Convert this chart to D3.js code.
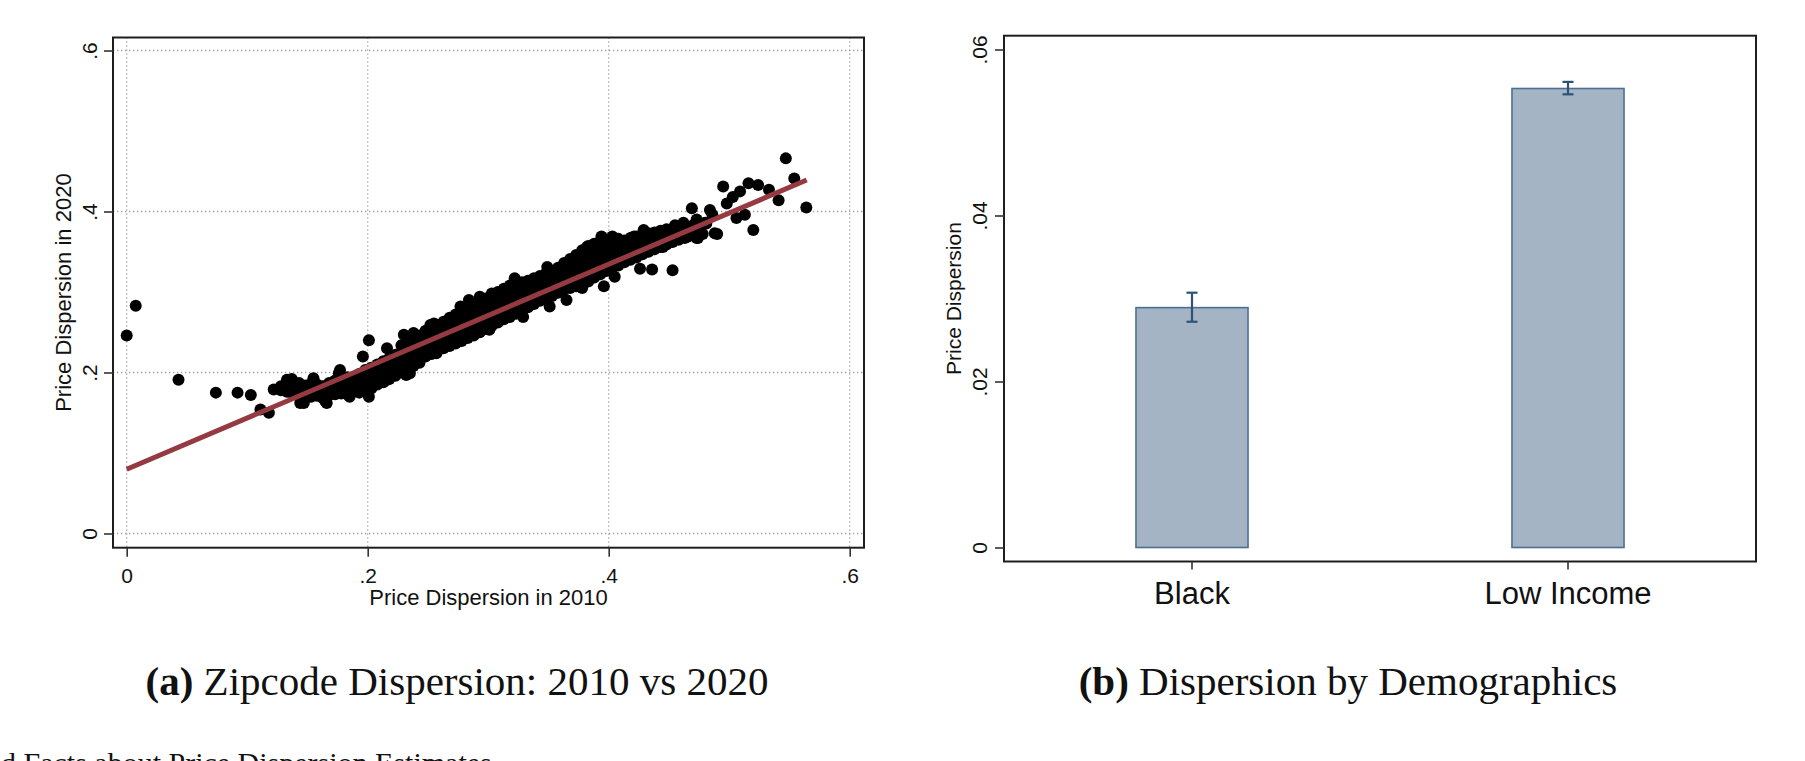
<!DOCTYPE html>
<html>
<head>
<meta charset="utf-8">
<script src="https://cdn.jsdelivr.net/npm/d3@7"></script>
<style>
  body { margin: 0; background: #fff; }
  svg { display: block; }
  .sans { font-family: "Liberation Sans", Arial, sans-serif; fill: #111; }
  .serif { font-family: "Liberation Serif", "Times New Roman", serif; fill: #111; }
</style>
</head>
<body>
<script>
// ---- panel (a): zipcode dispersion, 2010 vs 2020 ----
const xTicksA = [0, 0.2, 0.4, 0.6]
const yTicksA = [0, 0.2, 0.4, 0.6]
const tickFmt = d => d === 0 ? "0" : d3.format(".1f")(d).replace(/^0/, "")

// scattered points: [dispersion 2010, dispersion 2020]
const outlierPoints = [
  [0.000, 0.246], [0.0075, 0.283], [0.043, 0.191], [0.074, 0.175], [0.092, 0.175],
  [0.103, 0.172], [0.111, 0.154], [0.118, 0.150], [0.122, 0.179], [0.137, 0.192],
  [0.147, 0.162], [0.155, 0.193], [0.165, 0.164], [0.176, 0.199], [0.201, 0.240],
  [0.216, 0.230], [0.230, 0.247], [0.252, 0.259], [0.303, 0.298],
  [0.436, 0.328], [0.453, 0.327], [0.469, 0.404], [0.484, 0.402], [0.488, 0.373],
  [0.473, 0.367], [0.495, 0.431], [0.503, 0.418], [0.509, 0.425], [0.516, 0.435],
  [0.524, 0.433], [0.533, 0.427], [0.541, 0.414], [0.520, 0.377], [0.506, 0.392],
  [0.513, 0.396], [0.498, 0.410], [0.486, 0.396], [0.547, 0.466], [0.554, 0.441],
  [0.564, 0.405], [0.490, 0.372], [0.462, 0.386], [0.470, 0.383], [0.476, 0.378],
  [0.480, 0.386], [0.457, 0.377], [0.466, 0.369], [0.478, 0.372], [0.473, 0.390],
  [0.481, 0.385], [0.477, 0.373]
]

// bumps along the upper and lower edge of the band
const edgePoints = [
  [0.133, 0.191], [0.177, 0.203], [0.196, 0.220], [0.238, 0.249], [0.255, 0.261],
  [0.277, 0.282], [0.284, 0.290], [0.293, 0.294], [0.322, 0.317], [0.349, 0.331],
  [0.373, 0.344], [0.382, 0.356], [0.394, 0.369], [0.403, 0.369], [0.421, 0.369],
  [0.429, 0.377], [0.448, 0.377], [0.455, 0.383],
  [0.144, 0.162], [0.166, 0.162], [0.185, 0.170], [0.201, 0.170], [0.216, 0.191],
  [0.232, 0.197], [0.235, 0.199], [0.257, 0.224], [0.301, 0.253], [0.329, 0.269],
  [0.351, 0.282], [0.365, 0.290], [0.378, 0.305], [0.396, 0.307], [0.405, 0.319],
  [0.426, 0.329], [0.445, 0.356], [0.474, 0.367]
]

// the dense band, read column by column: [x, [y values]]
const cloudColumns = [
  [0.128, [0.178, 0.183]], [0.133, [0.176, 0.186]], [0.138, [0.174, 0.182, 0.188]],
  [0.143, [0.172, 0.180, 0.187]], [0.148, [0.168, 0.176, 0.184]], [0.153, [0.170, 0.179, 0.186]],
  [0.158, [0.171, 0.178, 0.185]], [0.163, [0.168, 0.175, 0.183]], [0.168, [0.172, 0.180, 0.187]],
  [0.173, [0.173, 0.181, 0.190]], [0.178, [0.174, 0.183, 0.191]], [0.183, [0.173, 0.180, 0.188, 0.194]],
  [0.188, [0.176, 0.184, 0.192]], [0.193, [0.175, 0.183, 0.191, 0.198]], [0.198, [0.178, 0.186, 0.195, 0.203]],
  [0.203, [0.180, 0.189, 0.198, 0.206]], [0.208, [0.185, 0.193, 0.201, 0.210]], [0.213, [0.188, 0.196, 0.205, 0.214]],
  [0.218, [0.192, 0.200, 0.209, 0.218]], [0.223, [0.196, 0.204, 0.213, 0.222]],
  [0.228, [0.200, 0.208, 0.217, 0.226, 0.234]], [0.233, [0.203, 0.212, 0.221, 0.230, 0.238]],
  [0.238, [0.208, 0.216, 0.225, 0.234, 0.242]], [0.243, [0.212, 0.220, 0.229, 0.238, 0.246]],
  [0.248, [0.220, 0.228, 0.237, 0.245, 0.252]], [0.253, [0.223, 0.231, 0.240, 0.249, 0.255]],
  [0.258, [0.227, 0.235, 0.244, 0.252, 0.259]], [0.263, [0.230, 0.238, 0.247, 0.256, 0.263]],
  [0.268, [0.233, 0.242, 0.251, 0.260, 0.268]], [0.273, [0.236, 0.245, 0.254, 0.263, 0.272]],
  [0.278, [0.239, 0.248, 0.258, 0.267, 0.277]], [0.283, [0.243, 0.252, 0.261, 0.270, 0.280]],
  [0.288, [0.246, 0.255, 0.265, 0.274, 0.284]], [0.293, [0.250, 0.259, 0.268, 0.278, 0.287]],
  [0.298, [0.254, 0.263, 0.272, 0.282, 0.292]], [0.303, [0.258, 0.267, 0.277, 0.286, 0.296]],
  [0.308, [0.262, 0.271, 0.281, 0.290, 0.300]], [0.313, [0.266, 0.275, 0.285, 0.294, 0.304]],
  [0.318, [0.269, 0.279, 0.288, 0.298, 0.308]], [0.323, [0.273, 0.283, 0.292, 0.302, 0.310]],
  [0.328, [0.277, 0.287, 0.296, 0.305, 0.312]], [0.333, [0.281, 0.291, 0.300, 0.308, 0.314]],
  [0.338, [0.285, 0.295, 0.304, 0.312, 0.317]], [0.343, [0.289, 0.298, 0.307, 0.315, 0.320]],
  [0.348, [0.292, 0.301, 0.310, 0.318, 0.323]], [0.353, [0.295, 0.304, 0.313, 0.321, 0.326]],
  [0.358, [0.299, 0.308, 0.317, 0.325, 0.330]], [0.363, [0.303, 0.312, 0.321, 0.330, 0.336]],
  [0.368, [0.305, 0.315, 0.325, 0.334, 0.341]], [0.373, [0.307, 0.318, 0.328, 0.338, 0.346]],
  [0.378, [0.310, 0.321, 0.332, 0.343, 0.352]], [0.383, [0.313, 0.324, 0.336, 0.348, 0.357]],
  [0.388, [0.318, 0.328, 0.340, 0.352, 0.360]], [0.393, [0.322, 0.333, 0.344, 0.355, 0.363]],
  [0.398, [0.326, 0.337, 0.348, 0.358, 0.365]], [0.403, [0.330, 0.341, 0.351, 0.360, 0.366]],
  [0.408, [0.333, 0.344, 0.354, 0.362, 0.366]], [0.413, [0.337, 0.347, 0.357, 0.364]],
  [0.418, [0.340, 0.350, 0.360, 0.367]], [0.423, [0.343, 0.353, 0.362, 0.369]],
  [0.428, [0.347, 0.356, 0.365, 0.371]], [0.433, [0.350, 0.359, 0.367, 0.373]],
  [0.438, [0.353, 0.362, 0.370, 0.374]], [0.443, [0.356, 0.365, 0.372, 0.376]],
  [0.448, [0.359, 0.367, 0.374, 0.378]], [0.453, [0.362, 0.370, 0.377]],
  [0.458, [0.365, 0.372, 0.379]], [0.463, [0.367, 0.375, 0.381]], [0.468, [0.371, 0.378]]
]

// fitted line end points
const fitX = [0, 0.5643]
const fitY = [0.0798, 0.4391]

// ---- panel (b): dispersion by demographics ----
const groups = ["Black", "Low Income"]
const meanDisp = [0.0289, 0.0553]
const ciLow = [0.0272, 0.0546]
const ciHigh = [0.0307, 0.0561]
const yTicksB = [0, 0.02, 0.04, 0.06]
const tickFmtB = d => d === 0 ? "0" : d3.format(".2f")(d).replace(/^0/, "")

const captions = [
  { tag: "(a)", text: " Zipcode Dispersion: 2010 vs 2020", x: 457 },
  { tag: "(b)", text: " Dispersion by Demographics", x: 1348 }
]

const svg = d3.select("body").append("svg")
  .attr("width", 1805)
  .attr("height", 761)

function drawScatter() {
  const frame = { left: 113, right: 864, top: 37.5, bottom: 547.7 }
  const x = d3.scaleLinear().domain([0, 0.6]).range([126.7, 849.7])
  const y = d3.scaleLinear().domain([0, 0.6]).range([533.5, 50.5])
  const g = svg.append("g")

  // dotted grid
  g.selectAll(".gx").data(xTicksA).enter().append("line")
    .attr("x1", d => x(d)).attr("x2", d => x(d))
    .attr("y1", frame.top).attr("y2", frame.bottom)
    .attr("stroke", "#a0a0a0").attr("stroke-width", 1.3)
    .attr("stroke-dasharray", "1.3,2.7")
  g.selectAll(".gy").data(yTicksA).enter().append("line")
    .attr("y1", d => y(d)).attr("y2", d => y(d))
    .attr("x1", frame.left).attr("x2", frame.right)
    .attr("stroke", "#a0a0a0").attr("stroke-width", 1.3)
    .attr("stroke-dasharray", "1.3,2.7")

  const pts = outlierPoints.concat(edgePoints,
    cloudColumns.flatMap(c => c[1].map(v => [c[0], v])))

  g.selectAll("circle").data(pts).enter().append("circle")
    .attr("cx", d => x(d[0]))
    .attr("cy", d => y(d[1]))
    .attr("r", 6)
    .attr("fill", "#000")

  g.append("line")
    .attr("x1", x(fitX[0])).attr("y1", y(fitY[0]))
    .attr("x2", x(fitX[1])).attr("y2", y(fitY[1]))
    .attr("stroke", "#943a40").attr("stroke-width", 5)

  g.append("rect")
    .attr("x", frame.left).attr("y", frame.top)
    .attr("width", frame.right - frame.left).attr("height", frame.bottom - frame.top)
    .attr("fill", "none").attr("stroke", "#1e1e1e").attr("stroke-width", 2)

  const axX = g.append("g").attr("transform", "translate(0," + frame.bottom + ")")
    .call(d3.axisBottom(x).tickValues(xTicksA).tickFormat(tickFmt).tickSize(9).tickPadding(11))
  const axY = g.append("g").attr("transform", "translate(" + frame.left + ",0)")
    .call(d3.axisLeft(y).tickValues(yTicksA).tickFormat(tickFmt).tickSize(9).tickPadding(0))
  ;[axX, axY].forEach(a => {
    a.select(".domain").remove()
    a.selectAll(".tick line").attr("stroke", "#333").attr("stroke-width", 1.6)
    a.selectAll("text").attr("class", "sans").style("font-size", "21px")
  })
  axX.selectAll("text").attr("dy", "0.71em")
  axY.selectAll("text")
    .attr("x", null).attr("dy", null)
    .attr("text-anchor", "middle")
    .attr("transform", "translate(-16.5,0) rotate(-90)")

  g.append("text").attr("class", "sans")
    .attr("x", (frame.left + frame.right) / 2).attr("y", 605)
    .attr("text-anchor", "middle").style("font-size", "22px")
    .text("Price Dispersion in 2010")
  g.append("text").attr("class", "sans")
    .attr("transform", "translate(71," + ((frame.top + frame.bottom) / 2) + ") rotate(-90)")
    .attr("text-anchor", "middle").style("font-size", "22px")
    .text("Price Dispersion in 2020")
}

function drawBars() {
  const frame = { left: 1004, right: 1756, top: 35.7, bottom: 561.5 }
  const x = d3.scaleBand().domain(groups).range([frame.left, frame.right])
    .paddingInner(0.702).paddingOuter(0.351)
  const y = d3.scaleLinear().domain([0, 0.06]).range([547.5, 49.5])
  const g = svg.append("g")
  const rows = groups.map((k, i) => ({ k: k, v: meanDisp[i], lo: ciLow[i], hi: ciHigh[i] }))

  g.selectAll(".bar").data(rows).enter().append("rect")
    .attr("x", d => x(d.k))
    .attr("width", x.bandwidth())
    .attr("y", d => y(d.v))
    .attr("height", d => y(0) - y(d.v))
    .attr("fill", "#a5b4c4")
    .attr("stroke", "#4d6f95").attr("stroke-width", 1.6)

  const cx = d => x(d.k) + x.bandwidth() / 2
  const eb = g.selectAll(".err").data(rows).enter().append("g").attr("stroke", "#2c5278").attr("stroke-width", 2.2)
  eb.append("line").attr("x1", cx).attr("x2", cx).attr("y1", d => y(d.lo)).attr("y2", d => y(d.hi))
  eb.append("line").attr("x1", d => cx(d) - 5.5).attr("x2", d => cx(d) + 5.5).attr("y1", d => y(d.lo)).attr("y2", d => y(d.lo))
  eb.append("line").attr("x1", d => cx(d) - 5.5).attr("x2", d => cx(d) + 5.5).attr("y1", d => y(d.hi)).attr("y2", d => y(d.hi))

  g.append("rect")
    .attr("x", frame.left).attr("y", frame.top)
    .attr("width", frame.right - frame.left).attr("height", frame.bottom - frame.top)
    .attr("fill", "none").attr("stroke", "#1e1e1e").attr("stroke-width", 2)

  const axX = g.append("g").attr("transform", "translate(0," + frame.bottom + ")")
    .call(d3.axisBottom(x).tickSize(8).tickPadding(10))
  const axY = g.append("g").attr("transform", "translate(" + frame.left + ",0)")
    .call(d3.axisLeft(y).tickValues(yTicksB).tickFormat(tickFmtB).tickSize(9).tickPadding(0))
  ;[axX, axY].forEach(a => {
    a.select(".domain").remove()
    a.selectAll(".tick line").attr("stroke", "#333").attr("stroke-width", 1.6)
    a.selectAll("text").attr("class", "sans")
  })
  axX.selectAll("text").style("font-size", "31px").attr("dy", "0.71em").attr("y", 20)
  axY.selectAll("text").style("font-size", "21px")
    .attr("x", null).attr("dy", null)
    .attr("text-anchor", "middle")
    .attr("transform", "translate(-17,0) rotate(-90)")

  g.append("text").attr("class", "sans")
    .attr("transform", "translate(961," + ((frame.top + frame.bottom) / 2) + ") rotate(-90)")
    .attr("text-anchor", "middle").style("font-size", "21px")
    .text("Price Dispersion")
}

function drawCaptions() {
  captions.forEach(c => {
    const t = svg.append("text").attr("class", "serif")
      .attr("x", c.x).attr("y", 695)
      .attr("text-anchor", "middle").style("font-size", "41px")
    t.append("tspan").attr("font-weight", "bold").text(c.tag)
    t.append("tspan").text(c.text)
  })
  svg.append("text").attr("class", "serif")
    .attr("x", 1).attr("y", 773).style("font-size", "30px")
    .text("d Facts about Price Dispersion Estimates")
}

drawScatter()
drawBars()
drawCaptions()
</script>
</body>
</html>
